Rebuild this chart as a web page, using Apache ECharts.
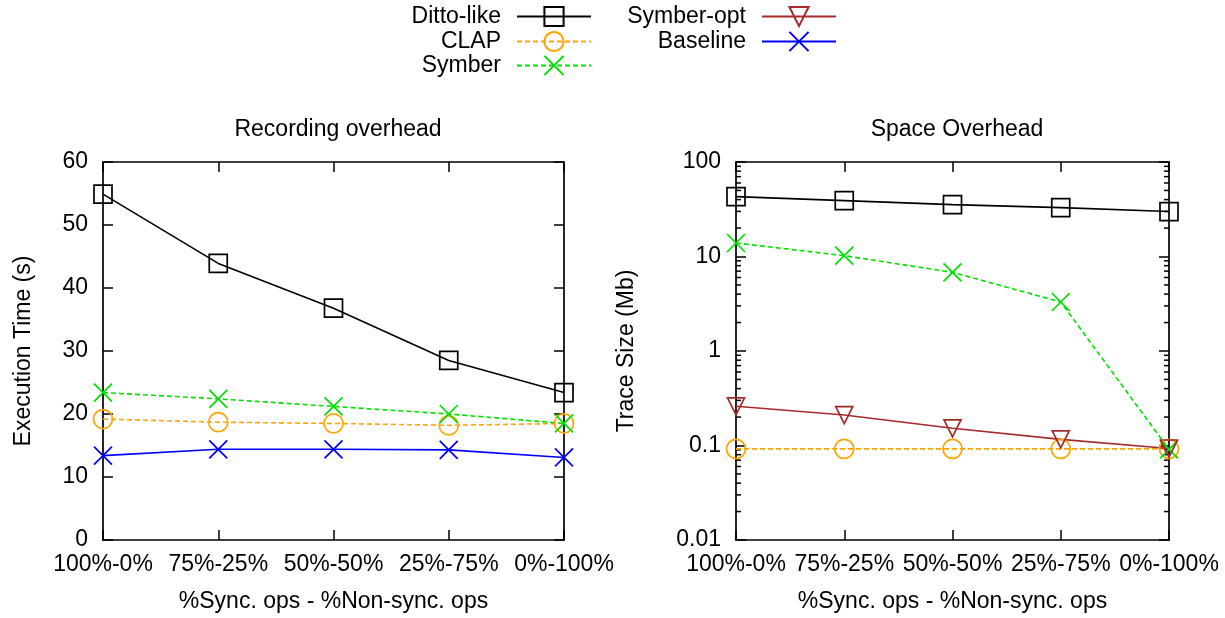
<!DOCTYPE html>
<html>
<head>
<meta charset="utf-8">
<script src="https://cdn.jsdelivr.net/npm/echarts@6/dist/echarts.min.js"></script>
<style>html,body{margin:0;padding:0;background:#fff}#c{width:1225px;height:618px}</style>
</head>
<body>
<div id="c"></div>
<script>
// ---- data ----
const categories = ['100%-0%', '75%-25%', '50%-50%', '25%-75%', '0%-100%'];
// Recording overhead: execution time (s)
const dittoTime    = [54.9, 43.9, 36.8, 28.5, 23.4];
const clapTime     = [19.2, 18.7, 18.5, 18.2, 18.5];
const symberTime   = [23.4, 22.4, 21.2, 20.0, 18.5];
const baselineTime = [13.4, 14.4, 14.4, 14.3, 13.1];
// Space overhead: trace size (Mb)
const dittoSpace     = [43, 39, 35.4, 32.9, 29.9];
const clapSpace      = [0.092, 0.092, 0.092, 0.092, 0.092];
const symberSpace    = [13.9, 10.2, 6.8, 3.3, 0.091];
const symberOptSpace = [0.26, 0.21, 0.152, 0.116, 0.093];
// log-axis minor tick values
const logMinorTicks = [0.02,0.03,0.04,0.05,0.06,0.07,0.08,0.09,
                       0.2,0.3,0.4,0.5,0.6,0.7,0.8,0.9,
                       2,3,4,5,6,7,8,9,
                       20,30,40,50,60,70,80,90];

const FONT = 'Liberation Sans';
const FS = 23;
const C = {ditto:'#000000', clap:'#ffa500', symber:'#00e000', opt:'#a52a2a', base:'#0000ff'};
const SYM = {
  ditto: 'rect',
  clap: 'circle',
  symber: 'path://M0,0L10,10M10,0L0,10',
  base: 'path://M0,0L10,10M10,0L0,10',
  opt: 'path://M0,0L10,0L5,8.7Z'
};

function line(name, data, key, dashed, xi, yi, size) {
  return {
    name, type: 'line', data, xAxisIndex: xi, yAxisIndex: yi,
    symbol: SYM[key], symbolSize: size, showSymbol: true,
    lineStyle: {color: C[key], width: 1.6, type: dashed ? [5, 3] : 'solid'},
    itemStyle: {color: 'rgba(0,0,0,0)', borderColor: C[key], borderWidth: 1.7},
    emphasis: {disabled: true}, animation: false, z: 3
  };
}

const axisLine = {show: true, onZero: false, lineStyle: {color: '#000', width: 1.7}};
const tick = {show: true, inside: true, length: 10, alignWithLabel: true, lineStyle: {color: '#000', width: 1.5}};
const lbl = {fontFamily: FONT, fontSize: FS, color: '#000'};

function xBottom(gi) {
  return {
    type: 'category', gridIndex: gi, data: categories, boundaryGap: false, position: 'bottom',
    axisLine, axisTick: tick, splitLine: {show: false},
    axisLabel: Object.assign({interval: 0, margin: 13}, lbl),
    name: '%Sync. ops - %Non-sync. ops', nameLocation: 'middle', nameGap: 50,
    nameTextStyle: lbl
  };
}
function xTop(gi) {
  return {
    type: 'category', gridIndex: gi, data: categories, boundaryGap: false, position: 'top',
    axisLine, axisTick: Object.assign({interval: 0}, tick), axisLabel: {show: false}, splitLine: {show: false}
  };
}
const logFmt = v => String(parseFloat(Number(v).toPrecision(3)));

const option = {
  backgroundColor: '#fff',
  animation: false,
  title: [
    {text: 'Recording overhead', left: 333, top: 113, textAlign: 'center',
     textStyle: {fontFamily: FONT, fontSize: FS, fontWeight: 'normal', color: '#000'}},
    {text: 'Space Overhead', left: 952, top: 113, textAlign: 'center',
     textStyle: {fontFamily: FONT, fontSize: FS, fontWeight: 'normal', color: '#000'}}
  ],
  legend: [
    ['Ditto-like', 633, 5], ['CLAP', 633, 30], ['Symber', 633, 54],
    ['Symber-opt', 388, 5], ['Baseline', 388, 30]
  ].map(([n, r, t]) => ({
    data: [n], right: r, top: t, align: 'right', orient: 'vertical', padding: 0,
    itemWidth: 74, itemHeight: 24, selectedMode: false,
    textStyle: {fontFamily: FONT, fontSize: FS, color: '#000', padding: [0, 11, 0, 0]}
  })),
  grid: [
    {left: 103, right: 661, top: 162, bottom: 78},
    {left: 736, right: 56, top: 162, bottom: 78}
  ],
  xAxis: [xBottom(0), xTop(0), xBottom(1), xTop(1)],
  yAxis: [
    {type: 'value', gridIndex: 0, min: 0, max: 60, interval: 10, position: 'left',
     axisLine, axisTick: tick, splitLine: {show: false},
     axisLabel: Object.assign({margin: 15}, lbl),
     name: 'Execution Time (s)', nameLocation: 'middle', nameGap: 68, nameTextStyle: lbl},
    {type: 'value', gridIndex: 0, min: 0, max: 60, interval: 10, position: 'right',
     axisLine, axisTick: tick, splitLine: {show: false}, axisLabel: {show: false}},
    {type: 'log', logBase: 10, gridIndex: 1, min: 0.01, max: 100, position: 'left',
     axisLine, axisTick: tick, splitLine: {show: false}, minorTick: {show: false},
     axisLabel: Object.assign({margin: 15, formatter: logFmt}, lbl),
     name: 'Trace Size (Mb)', nameLocation: 'middle', nameGap: 98, nameTextStyle: lbl},
    {type: 'log', logBase: 10, gridIndex: 1, min: 0.01, max: 100, position: 'right',
     axisLine, axisTick: tick, splitLine: {show: false}, minorTick: {show: false}, axisLabel: {show: false}}
  ],
  series: [
    line('Ditto-like', dittoTime, 'ditto', false, 0, 0, 18),
    line('CLAP', clapTime, 'clap', true, 0, 0, 19),
    line('Symber', symberTime, 'symber', true, 0, 0, 18),
    line('Baseline', baselineTime, 'base', false, 0, 0, 18),
    line('Ditto-like', dittoSpace, 'ditto', false, 2, 2, 18),
    line('CLAP', clapSpace, 'clap', true, 2, 2, 19),
    line('Symber', symberSpace, 'symber', true, 2, 2, 18),
    line('Symber-opt', symberOptSpace, 'opt', false, 2, 2, 17),
    {
      type: 'custom', xAxisIndex: 2, yAxisIndex: 2, silent: true, z: 2,
      data: logMinorTicks.map(v => [0, v]),
      renderItem: function (params, api) {
        const cs = params.coordSys;
        const y = api.coord([0, api.value(1)])[1];
        const st = {stroke: '#000', lineWidth: 1.5};
        return {type: 'group', children: [
          {type: 'line', shape: {x1: cs.x, y1: y, x2: cs.x + 5, y2: y}, style: st},
          {type: 'line', shape: {x1: cs.x + cs.width, y1: y, x2: cs.x + cs.width - 5, y2: y}, style: st}
        ]};
      }
    }
  ]
};
const chart = echarts.init(document.getElementById('c'), null, {renderer: 'canvas'});
chart.setOption(option);
</script>
</body>
</html>
